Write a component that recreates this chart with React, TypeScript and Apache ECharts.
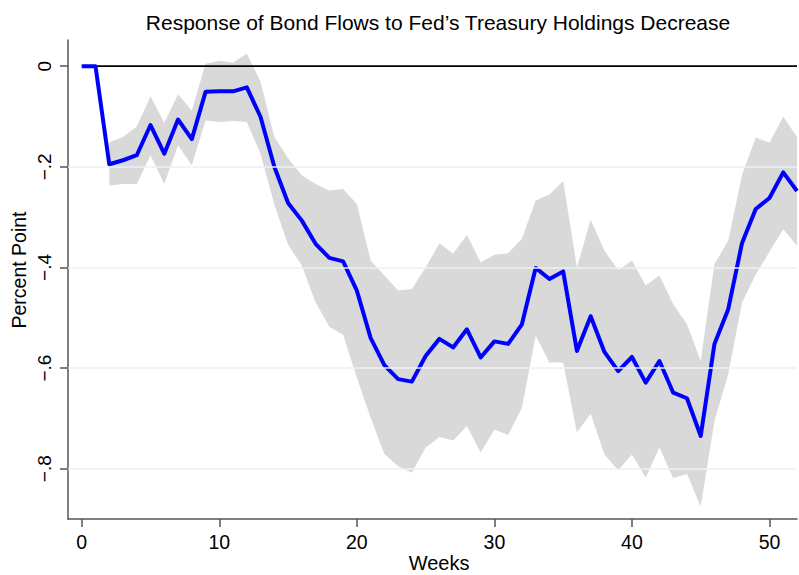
import React, { useEffect, useRef } from "react";
import * as echarts from "echarts";

const weeks = [0, 1, 2, 3, 4, 5, 6, 7, 8, 9, 10, 11, 12, 13, 14, 15, 16, 17, 18, 19, 20, 21, 22, 23, 24, 25, 26, 27, 28, 29, 30, 31, 32, 33, 34, 35, 36, 37, 38, 39, 40, 41, 42, 43, 44, 45, 46, 47, 48, 49, 50, 51, 52];

const response = [0, 0, -0.195, -0.187, -0.177, -0.117, -0.174, -0.106, -0.145, -0.051, -0.05, -0.05, -0.042, -0.101, -0.2, -0.272, -0.307, -0.353, -0.381, -0.388, -0.446, -0.54, -0.594, -0.622, -0.627, -0.576, -0.542, -0.559, -0.523, -0.579, -0.547, -0.552, -0.513, -0.401, -0.423, -0.408, -0.566, -0.497, -0.568, -0.606, -0.578, -0.629, -0.586, -0.649, -0.66, -0.735, -0.552, -0.483, -0.352, -0.284, -0.262, -0.211, -0.248];

const upper = [null, null, -0.151, -0.141, -0.12, -0.06, -0.113, -0.056, -0.088, 0.005, 0.011, 0.007, 0.025, -0.031, -0.141, -0.183, -0.217, -0.234, -0.247, -0.244, -0.274, -0.386, -0.416, -0.446, -0.443, -0.4, -0.352, -0.373, -0.335, -0.39, -0.375, -0.372, -0.343, -0.267, -0.255, -0.228, -0.4, -0.305, -0.367, -0.405, -0.386, -0.436, -0.416, -0.473, -0.513, -0.586, -0.393, -0.347, -0.217, -0.142, -0.152, -0.1, -0.141];

const lower = [null, null, -0.237, -0.234, -0.234, -0.177, -0.234, -0.157, -0.197, -0.108, -0.111, -0.109, -0.111, -0.174, -0.275, -0.355, -0.396, -0.469, -0.518, -0.534, -0.619, -0.699, -0.771, -0.795, -0.808, -0.758, -0.737, -0.744, -0.715, -0.768, -0.722, -0.733, -0.679, -0.536, -0.589, -0.589, -0.728, -0.691, -0.772, -0.803, -0.772, -0.818, -0.758, -0.819, -0.81, -0.875, -0.705, -0.612, -0.47, -0.414, -0.369, -0.324, -0.357];

const xTicks = [0, 10, 20, 30, 40, 50];
const yTicks = [0, -0.2, -0.4, -0.6, -0.8];
const gridValues = [-0.2, -0.4, -0.6, -0.8];

const TITLE = "Response of Bond Flows to Fed\u2019s Treasury Holdings Decrease";
const FONT = "Liberation Sans, Arial, Helvetica, sans-serif";

function fmtY(v: number): string {
  if (Math.abs(v) < 1e-9) return "0";
  const s = Math.abs(v).toFixed(1).replace(/^0/, "");
  return (v < 0 ? "\u2212" : "") + s;
}

export default function App() {
  const ref = useRef<HTMLDivElement>(null);
  useEffect(() => {
    if (!ref.current) return;
    const chart = echarts.init(ref.current, null, { renderer: "svg" });

    const bandData = weeks
      .map((w, i) => [w, lower[i], upper[i]])
      .filter((d) => d[1] !== null && d[2] !== null);

    const option: any = {
      animation: false,
      backgroundColor: "#ffffff",
      textStyle: { fontFamily: FONT },
      grid: { left: 68, right: 2, top: 40, bottom: 56, containLabel: false },
      xAxis: {
        type: "value",
        min: -1,
        max: 52,
        axisLine: { show: true, onZero: false, lineStyle: { color: "#555555", width: 1.5 } },
        axisTick: { show: true, customValues: xTicks, length: 8, lineStyle: { color: "#555555", width: 1.5 } },
        axisLabel: { customValues: xTicks, color: "#000", fontSize: 19.5, fontFamily: FONT, margin: 13 },
        splitLine: { show: false },
      },
      yAxis: {
        type: "value",
        min: -0.9,
        max: 0.052,
        axisLine: { show: true, onZero: false, lineStyle: { color: "#555555", width: 1.5 } },
        axisTick: { show: true, customValues: yTicks, length: 8, lineStyle: { color: "#555555", width: 1.5 } },
        axisLabel: {
          customValues: yTicks,
          color: "#000",
          fontSize: 19,
          fontFamily: FONT,
          rotate: 90,
          margin: 14,
          formatter: (v: number) => fmtY(v),
        },
        splitLine: { show: false },
      },
      graphic: [
        {
          type: "text",
          x: 438,
          y: 22,
          style: { text: TITLE, fill: "#000", font: `21px ${FONT}`, textAlign: "center", textVerticalAlign: "middle" },
        },
        {
          type: "text",
          x: 439,
          y: 563,
          style: { text: "Weeks", fill: "#000", font: `20px ${FONT}`, textAlign: "center", textVerticalAlign: "middle" },
        },
        {
          type: "text",
          x: 19,
          y: 270,
          rotation: Math.PI / 2,
          style: { text: "Percent Point", fill: "#000", font: `19.5px ${FONT}`, textAlign: "center", textVerticalAlign: "middle" },
        },
      ],
      series: [
        {
          type: "line",
          name: "grid",
          data: [],
          silent: true,
          markLine: {
            symbol: "none",
            silent: true,
            label: { show: false },
            lineStyle: { color: "#eaf0f3", width: 1.5, type: "solid" },
            data: gridValues.map((v) => ({ yAxis: v })),
          },
          z: 1,
        },
        {
          type: "custom",
          name: "band",
          data: bandData,
          clip: true,
          z: 2,
          renderItem: (params: any, api: any) => {
            if (params.dataIndex !== 0) return null;
            const top = bandData.map((d) => api.coord([d[0], d[2]]));
            const bot = bandData.map((d) => api.coord([d[0], d[1]])).reverse();
            return {
              type: "polygon",
              shape: { points: top.concat(bot) },
              style: { fill: "#d9d9d9", stroke: "none" },
            };
          },
        },
        {
          type: "line",
          name: "zero",
          data: [[weeks[0], 0], [weeks[weeks.length - 1], 0]],
          symbol: "none",
          lineStyle: { color: "#000000", width: 1.6 },
          z: 3,
        },
        {
          type: "line",
          name: "response",
          data: weeks.map((w, i) => [w, response[i]]),
          symbol: "none",
          lineStyle: { color: "#0000ff", width: 4, join: "round" },
          z: 4,
        },
      ],
    };
    chart.setOption(option);
    return () => chart.dispose();
  }, []);

  return (
    <div
      ref={ref}
      style={{ position: "fixed", left: 0, top: 0, width: 799, height: 575, background: "#fff" }}
    />
  );
}
